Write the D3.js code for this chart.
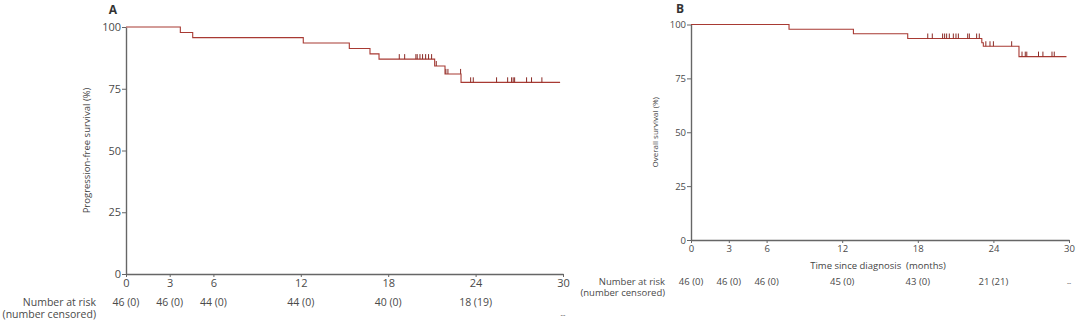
<!DOCTYPE html>
<html><head><meta charset="utf-8">
<script src="https://cdn.jsdelivr.net/npm/d3@7"></script>
<style>body{margin:0;background:#fff}svg{display:block}text{font-family:"Open Sans",sans-serif;fill:#4a4a4a}</style>
</head><body><svg id="c" width="1080" height="325"></svg>
<script>
// ---- Data ----
const xTicks = [0, 3, 6, 12, 18, 24, 30];
const yTicks = [0, 25, 50, 75, 100];

// Panel A: progression-free survival (step times in months, survival %)
const pfsTimes = [0, 3.73, 4.58, 12.17, 15.33, 16.75, 17.37, 21.19, 21.9, 23.0];
const pfsSurv  = [100, 97.8, 95.7, 93.5, 91.3, 89.1, 87.0, 84.2, 81.0, 77.6];
const pfsEnd = 29.8;
const pfsCensor = [18.76, 19.13, 19.90, 19.99, 20.18, 20.36, 20.57, 20.77, 20.98, 21.3, 21.96, 22.1, 22.97, 23.66, 23.84, 25.44, 26.2, 26.47, 26.58, 26.68, 27.5, 27.84, 28.55];
const pfsRisk = ["46 (0)", "46 (0)", "44 (0)", "44 (0)", "40 (0)", "18 (19)", "--"];

// Panel B: overall survival
const osTimes = [0, 7.78, 12.89, 17.2, 23.08, 23.2, 26.03];
const osSurv  = [100, 97.8, 95.7, 93.5, 91.5, 89.9, 85.1];
const osEnd = 29.8;
const osCensor = [18.79, 19.15, 19.97, 20.13, 20.29, 20.5, 20.82, 21.03, 21.22, 21.96, 22.09, 22.67, 22.88, 23.4, 23.73, 24.0, 25.45, 26.27, 26.53, 26.65, 27.58, 27.93, 28.65, 28.83];
const osRisk = ["46 (0)", "46 (0)", "46 (0)", "45 (0)", "43 (0)", "21 (21)", "--"];

const svg = d3.select("#c");
const curveColor = "#a83a33";
const censorColor = "#8a2a25";
const axisColor = "#666";

function panel(o) {
  const x = d3.scaleLinear().domain([0, 30]).range([o.x0, o.x1]);
  const y = d3.scaleLinear().domain([0, 100]).range([o.y0, o.y1]);
  const g = svg.append("g");

  // axes
  const xa = g.append("g").attr("transform", `translate(0,${o.y0})`)
    .call(d3.axisBottom(x).tickValues(xTicks).tickSize(3).tickPadding(2).tickSizeOuter(0));
  const ya = g.append("g").attr("transform", `translate(${o.x0},0)`)
    .call(d3.axisLeft(y).tickValues(yTicks).tickSize(4).tickPadding(1).tickSizeOuter(0));
  [xa, ya].forEach(a => {
    a.select(".domain").attr("stroke", axisColor).attr("stroke-width", 1.4);
    a.selectAll(".tick line").attr("stroke", axisColor).attr("stroke-width", 1);
    a.selectAll(".tick text").attr("font-family", '"Open Sans",sans-serif').attr("font-size", o.tickFs).attr("fill", "#4a4a4a");
  });

  // KM step curve
  const pts = o.times.map((t, i) => [t, o.surv[i]]);
  pts.push([o.end, o.surv[o.surv.length - 1]]);
  const line = d3.line().x(d => x(d[0])).y(d => y(d[1])).curve(d3.curveStepAfter);
  g.append("path").attr("d", line(pts)).attr("fill", "none")
    .attr("stroke", curveColor).attr("stroke-width", 1.1);

  // censor marks
  const survAt = t => o.surv[d3.bisectRight(o.times, t) - 1];
  g.selectAll(".cen").data(o.censor).join("line")
    .attr("x1", d => x(d)).attr("x2", d => x(d))
    .attr("y1", d => y(survAt(d))).attr("y2", d => y(survAt(d)) - o.cenH)
    .attr("stroke", censorColor).attr("stroke-width", 1);

  // panel letter
  g.append("text").attr("x", o.letterX).attr("y", o.letterY).attr("text-anchor", "middle")
    .attr("font-size", 12).attr("font-weight", "bold").style("fill", "#333").text(o.letter);

  // y label
  g.append("text").attr("transform", `translate(${o.ylabX},${(o.y0 + o.y1) / 2}) rotate(-90)`)
    .attr("text-anchor", "middle").attr("font-size", o.ylabFs).style("fill", "#444").text(o.ylab);

  // x label
  if (o.xlab) g.append("text").attr("x", o.xlabX).attr("y", o.xlabY).attr("text-anchor", "middle")
    .attr("font-size", o.riskFs).style("fill", "#444").attr("xml:space", "preserve").text(o.xlab);

  // risk table
  g.append("text").attr("x", o.riskLabX).attr("y", o.riskY).attr("text-anchor", "end")
    .attr("font-size", o.riskFs).text("Number at risk");
  g.append("text").attr("x", o.riskLabX).attr("y", o.riskY + o.riskGap).attr("text-anchor", "end")
    .attr("font-size", o.riskFs).text("(number censored)");
  g.selectAll(".risk").data(o.risk).join("text")
    .attr("x", (d, i) => x(xTicks[i]))
    .attr("y", d => d === "--" ? o.dashY : o.riskY)
    .attr("text-anchor", "middle").attr("font-size", d => d === "--" ? o.riskFs - 3 : o.riskFs)
    .text(d => d);
}

panel({
  x0: 126, x1: 563, y0: 274, y1: 27,
  times: pfsTimes, surv: pfsSurv, end: pfsEnd, censor: pfsCensor, risk: pfsRisk,
  tickFs: 11, cenH: 5, letter: "A", letterX: 113, letterY: 14,
  ylab: "Progression-free survival (%)", ylabX: 90, ylabFs: 9.5,
  riskLabX: 96, riskY: 306, riskGap: 12, riskFs: 10.5, dashY: 317
});

panel({
  x0: 691, x1: 1069, y0: 240, y1: 24.5,
  times: osTimes, surv: osSurv, end: osEnd, censor: osCensor, risk: osRisk,
  tickFs: 9.5, cenH: 5, letter: "B", letterX: 680, letterY: 13,
  ylab: "Overall survival (%)", ylabX: 658, ylabFs: 8,
  xlab: "Time since diagnosis  (months)", xlabX: 878, xlabY: 268.5,
  riskLabX: 665, riskY: 284.5, riskGap: 11, riskFs: 9.5, dashY: 284.5
});
</script></body></html>
